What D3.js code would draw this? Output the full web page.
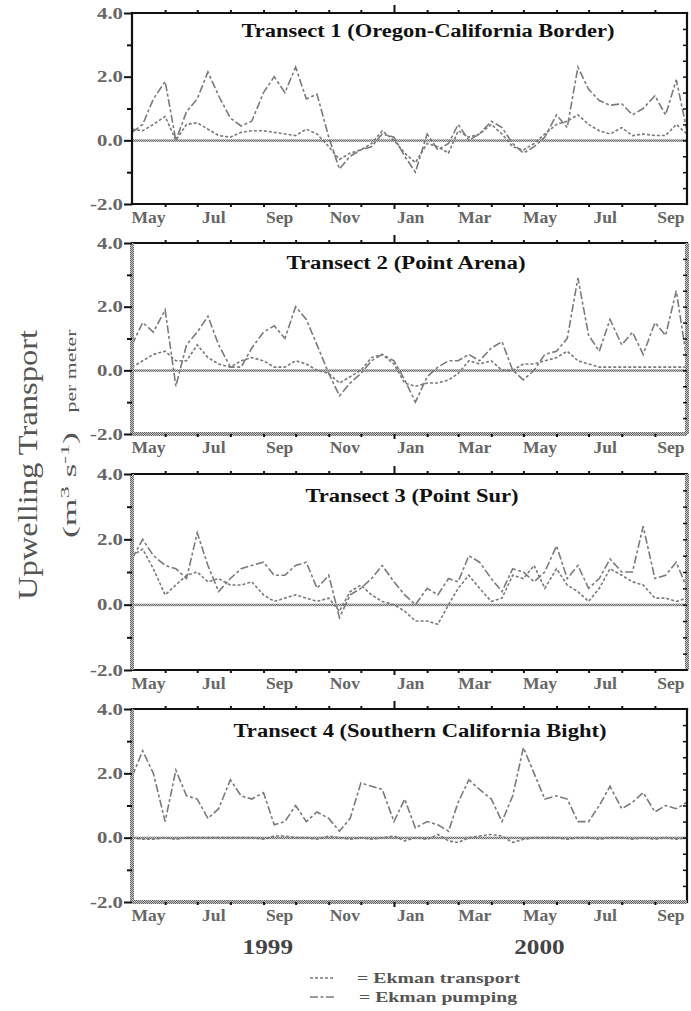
<!DOCTYPE html>
<html><head><meta charset="utf-8">
<script src="https://cdn.jsdelivr.net/npm/d3@7"></script>
<style>body{margin:0;background:#fff}svg{display:block}</style>
</head><body><svg id="c" width="691" height="1011"></svg>
<script>
// ---------- DATA ----------
const dates = [
"1999-05-01","1999-05-11","1999-05-21","1999-06-01","1999-06-11","1999-06-21",
"1999-07-01","1999-07-11","1999-07-21","1999-08-01","1999-08-11","1999-08-21",
"1999-09-01","1999-09-11","1999-09-21","1999-10-01","1999-10-11","1999-10-21",
"1999-11-01","1999-11-11","1999-11-21","1999-12-01","1999-12-11","1999-12-21",
"2000-01-01","2000-01-11","2000-01-21","2000-02-01","2000-02-11","2000-02-21",
"2000-03-01","2000-03-11","2000-03-21","2000-04-01","2000-04-11","2000-04-21",
"2000-05-01","2000-05-11","2000-05-21","2000-06-01","2000-06-11","2000-06-21",
"2000-07-01","2000-07-11","2000-07-21","2000-08-01","2000-08-11","2000-08-21",
"2000-09-01","2000-09-11","2000-09-21","2000-10-01"];

const monthTicks = ["1999-05-01","1999-06-01","1999-07-01","1999-08-01","1999-09-01","1999-10-01",
"1999-11-01","1999-12-01","2000-01-01","2000-02-01","2000-03-01","2000-04-01","2000-05-01",
"2000-06-01","2000-07-01","2000-08-01","2000-09-01","2000-10-01"];
const monthLabels = ["May","Jul","Sep","Nov","Jan","Mar","May","Jul","Sep"];
const monthLabelStarts = ["1999-05-01","1999-07-01","1999-09-01","1999-11-01","2000-01-01",
"2000-03-01","2000-05-01","2000-07-01","2000-09-01"];
const majorTick = "2000-01-01";
const yTickValues = [4, 2, 0, -2];
const yMinorTicks = [3, 1, -1];
const yRightTicks = [3.5,3,2.5,2,1.5,1,0.5,0,-0.5,-1,-1.5];
const titles = ["Transect 1 (Oregon-California Border)","Transect 2 (Point Arena)",
"Transect 3 (Point Sur)","Transect 4 (Southern California Bight)"];
const yearLabels = ["1999","2000"];
const yearDates = ["1999-09-05","2000-05-16"];
const legendLabels = ["= Ekman transport","= Ekman pumping"];

const t1Transport = [0.35,0.3,0.5,0.75,0.0,0.5,0.55,0.35,0.15,0.1,0.25,0.3,0.3,0.25,0.2,0.15,0.35,0.2,-0.2,-0.6,-0.4,-0.3,-0.1,0.3,0.0,-0.4,-0.7,-0.1,-0.2,-0.4,0.3,0.1,0.2,0.5,0.2,-0.2,-0.3,-0.1,0.2,0.5,0.6,0.8,0.5,0.3,0.2,0.4,0.15,0.2,0.15,0.15,0.5,0.2];
const t1Pumping = [0.25,0.5,1.3,1.85,0.0,0.9,1.3,2.15,1.4,0.7,0.45,0.6,1.5,2.0,1.5,2.3,1.3,1.45,0.1,-0.9,-0.5,-0.3,-0.2,0.2,0.1,-0.5,-1.0,0.2,-0.3,-0.1,0.5,0.0,0.2,0.6,0.4,-0.1,-0.4,-0.2,0.1,0.8,0.4,2.3,1.6,1.25,1.1,1.15,0.8,1.0,1.4,0.8,1.9,0.3];
const t2Transport = [0.1,0.3,0.5,0.6,0.3,0.3,0.8,0.4,0.2,0.1,0.3,0.4,0.3,0.1,0.1,0.3,0.2,0.0,-0.1,-0.4,-0.2,0.0,0.4,0.5,0.2,-0.4,-0.5,-0.4,-0.4,-0.3,-0.1,0.3,0.2,0.3,0.0,0.0,0.2,0.2,0.3,0.4,0.6,0.3,0.2,0.1,0.1,0.1,0.1,0.1,0.1,0.1,0.1,0.1];
const t2Pumping = [0.8,1.5,1.2,1.9,-0.5,0.8,1.2,1.7,0.8,0.1,0.1,0.7,1.2,1.4,1.0,2.0,1.6,0.8,-0.1,-0.8,-0.4,-0.1,0.3,0.5,0.3,-0.3,-1.0,-0.2,0.1,0.3,0.3,0.5,0.3,0.7,0.9,0.0,-0.3,0.0,0.5,0.6,1.0,2.9,1.1,0.6,1.6,0.8,1.2,0.5,1.5,1.1,2.5,0.3];
const t3Transport = [1.5,1.7,1.1,0.3,0.6,0.9,1.0,0.7,0.8,0.6,0.6,0.7,0.3,0.1,0.2,0.3,0.2,0.1,0.2,-0.2,0.4,0.6,0.3,0.1,0.0,-0.2,-0.5,-0.5,-0.6,0.0,0.5,0.9,0.5,0.1,0.2,0.9,0.8,1.2,0.5,1.1,0.6,0.4,0.1,0.5,1.1,0.9,0.7,0.6,0.2,0.2,0.1,0.2];
const t3Pumping = [1.4,2.0,1.5,1.2,1.1,0.8,2.2,1.2,0.4,0.8,1.1,1.2,1.3,0.9,0.9,1.2,1.3,0.5,0.9,-0.4,0.3,0.5,0.8,1.2,0.7,0.3,0.0,0.5,0.3,0.8,0.7,1.5,1.3,0.8,0.4,1.1,1.0,0.7,1.0,1.8,0.8,1.2,0.5,0.8,1.4,1.0,1.0,2.4,0.8,0.9,1.3,0.5];
const t4Transport = [0.0,-0.05,-0.05,0.0,-0.05,0.0,0.0,0.0,0.0,0.0,0.0,0.0,-0.05,0.05,0.05,0.0,0.0,-0.05,0.05,0.0,-0.05,0.0,-0.05,0.0,0.05,-0.1,0.0,-0.05,0.1,-0.1,-0.15,0.0,0.05,0.1,0.05,-0.15,-0.05,0.0,0.0,0.0,-0.05,0.0,0.0,-0.05,0.0,0.0,-0.05,0.0,-0.05,0.0,-0.05,0.0];
const t4Pumping = [1.9,2.7,2.0,0.5,2.1,1.3,1.2,0.6,0.9,1.8,1.3,1.2,1.4,0.4,0.5,1.0,0.5,0.8,0.6,0.2,0.6,1.7,1.6,1.5,0.5,1.2,0.3,0.5,0.4,0.2,1.1,1.8,1.5,1.2,0.5,1.3,2.8,2.0,1.2,1.3,1.2,0.5,0.5,1.0,1.6,0.9,1.1,1.4,0.8,1.0,0.9,1.1];

const transportSeries = [t1Transport, t2Transport, t3Transport, t4Transport];
const pumpingSeries = [t1Pumping, t2Pumping, t3Pumping, t4Pumping];

// ---------- LAYOUT ----------
const L = 132, R = 687;
const layout = [
  {top:13,  bottom:204, titleX:428, titleW:373, titleY:37,  frame:"kkkk"},
  {top:243, bottom:434, titleX:406, titleW:239, titleY:269, frame:"ksss"},
  {top:474, bottom:670, titleX:412, titleW:213, titleY:502, frame:"ksks"},
  {top:709, bottom:902, titleX:420, titleW:373, titleY:737, frame:"kkss"}
];
const FONT = "'Liberation Serif','Times New Roman',serif";
const parse = d3.timeParse("%Y-%m-%d");
const x = d3.scaleTime().domain([parse(dates[0]), parse(dates[dates.length-1])]).range([L, R]);

const svg = d3.select("#c");
svg.append("rect").attr("width",691).attr("height",1011).attr("fill","#fff");
const defs = svg.append("defs");
const pat = defs.append("pattern").attr("id","stip").attr("width",2).attr("height",2).attr("patternUnits","userSpaceOnUse");
pat.append("rect").attr("width",2).attr("height",2).attr("fill","#c8c8c8");
pat.append("rect").attr("width",1).attr("height",1).attr("fill","#666");
pat.append("rect").attr("x",1).attr("y",1).attr("width",1).attr("height",1).attr("fill","#666");

function stext(g, px, py, s, o) {
  const t = g.append("text")
    .attr("transform", `translate(${px},${py}) rotate(${o.rotate||0}) scale(${o.sx||1},1)`)
    .attr("text-anchor", o.anchor || "middle")
    .attr("font-family", FONT)
    .attr("font-size", o.size)
    .attr("font-weight", o.weight || "bold")
    .attr("fill", o.fill || "#555")
    .text(s);
  if (o.len) t.attr("textLength", o.len).attr("lengthAdjust", "spacingAndGlyphs");
  return t;
}

layout.forEach((p, i) => {
  const g = svg.append("g");
  const y = d3.scaleLinear().domain([-2, 4]).range([p.bottom, p.top]);

  // zero line
  g.append("rect").attr("x", L).attr("y", y(0) - 1).attr("width", R - L).attr("height", 2.5)
    .attr("fill", "url(#stip)");

  // series
  const line = d3.line().x((d, k) => x(parse(dates[k]))).y(d => y(d));
  g.append("path").datum(transportSeries[i]).attr("d", line)
    .attr("fill", "none").attr("stroke", "#7a7a7a").attr("stroke-width", 1.6)
    .attr("stroke-dasharray", "3,2");
  g.append("path").datum(pumpingSeries[i]).attr("d", line)
    .attr("fill", "none").attr("stroke", "#7a7a7a").attr("stroke-width", 1.6)
    .attr("stroke-dasharray", "8,2.5,3,2.5");

  // frame: t r b l
  const sides = {
    t: {x1:L, y1:p.top, x2:R, y2:p.top},
    r: {x1:R, y1:p.top, x2:R, y2:p.bottom},
    b: {x1:L, y1:p.bottom, x2:R, y2:p.bottom},
    l: {x1:L, y1:p.top, x2:L, y2:p.bottom}
  };
  ["t","r","b","l"].forEach((k, j) => {
    const s = sides[k];
    if (p.frame[j] === "k") {
      g.append("line").attr("x1", s.x1).attr("y1", s.y1).attr("x2", s.x2).attr("y2", s.y2)
        .attr("stroke", "#111").attr("stroke-width", 2.2).attr("stroke-linecap","square");
    } else {
      const vert = s.x1 === s.x2;
      g.append("rect")
        .attr("x", vert ? s.x1 - 2 : s.x1).attr("y", vert ? s.y1 : s.y1 - 2)
        .attr("width", vert ? 4 : s.x2 - s.x1).attr("height", vert ? s.y2 - s.y1 : 4)
        .attr("fill", "url(#stip)");
    }
  });

  // left axis
  const la = g.append("g").attr("transform", `translate(${L},0)`)
    .call(d3.axisLeft(y).tickValues(yTickValues).tickSize(8).tickFormat(d => d.toFixed(1)));
  la.select(".domain").remove();
  la.selectAll("line").attr("stroke", "#111").attr("stroke-width", 2);
  la.selectAll("text").remove();
  yTickValues.forEach(v => stext(g, L - 9, y(v) + 5.5, v.toFixed(1), {size:16, anchor:"end", sx:1.3, fill:"#666"}));
  const lm = g.append("g").attr("transform", `translate(${L},0)`)
    .call(d3.axisLeft(y).tickValues(yMinorTicks).tickSize(5).tickFormat(""));
  lm.select(".domain").remove();
  lm.selectAll("line").attr("stroke", "#111").attr("stroke-width", 2);

  // right ticks inward
  const ra = g.append("g").attr("transform", `translate(${R},0)`)
    .call(d3.axisLeft(y).tickValues(yRightTicks).tickSize(4).tickFormat(""));
  ra.select(".domain").remove();
  ra.selectAll("line").attr("stroke", "#111").attr("stroke-width", 1.5);

  // top & bottom month ticks
  const tickDates = monthTicks.slice(1, -1).map(parse);
  const ta = g.append("g").attr("transform", `translate(0,${p.top})`)
    .call(d3.axisTop(x).tickValues(tickDates).tickSizeInner(3).tickSizeOuter(0).tickFormat(""));
  ta.select(".domain").remove();
  ta.selectAll("line").attr("stroke", "#111").attr("stroke-width", 2)
    .attr("y2", d => +d === +parse(majorTick) ? -8 : -3);
  const ba = g.append("g").attr("transform", `translate(0,${p.bottom})`)
    .call(d3.axisBottom(x).tickValues(tickDates).tickSizeInner(3).tickSizeOuter(0).tickFormat(""));
  ba.select(".domain").remove();
  ba.selectAll("line").attr("stroke", "#111").attr("stroke-width", 2)
    .attr("y2", d => +d === +parse(majorTick) ? 5 : 3);

  // month labels (centered in month)
  monthLabelStarts.forEach((m, k) => {
    const d0 = parse(m), d1 = d3.timeMonth.offset(d0, 1);
    stext(g, (x(d0) + x(d1)) / 2, p.bottom + 19, monthLabels[k], {size:16, sx:1.1, fill:"#666"});
  });

  // title
  stext(g, p.titleX, p.titleY, titles[i], {size:18, fill:"#111", len:p.titleW});
});

// y axis title
stext(svg, 37, 465, "Upwelling Transport", {size:28, weight:"normal", rotate:-90, fill:"#555", len:270});
const sub = svg.append("text")
  .attr("transform", "translate(76,485) rotate(-90)")
  .attr("text-anchor", "middle").attr("font-family", FONT).attr("font-size", 18)
  .attr("fill", "#555").attr("textLength", 106).attr("lengthAdjust", "spacingAndGlyphs");
sub.append("tspan").text("(m");
sub.append("tspan").attr("font-size", 12).attr("dy", -7).text("3");
sub.append("tspan").attr("dy", 7).text(" s");
sub.append("tspan").attr("font-size", 12).attr("dy", -7).text("-1");
sub.append("tspan").attr("dy", 7).text(")");
stext(svg, 76, 371, "per meter", {size:15, weight:"normal", rotate:-90, fill:"#555", len:83});

// year labels
yearLabels.forEach((yl, k) => stext(svg, x(parse(yearDates[k])), 954, yl, {size:21, sx:1.2, fill:"#444"}));

// legend
const lg = svg.append("g");
lg.append("line").attr("x1", 310).attr("x2", 334).attr("y1", 978).attr("y2", 978)
  .attr("stroke", "#7a7a7a").attr("stroke-width", 1.6).attr("stroke-dasharray", "3,2");
lg.append("line").attr("x1", 310).attr("x2", 336).attr("y1", 997).attr("y2", 997)
  .attr("stroke", "#7a7a7a").attr("stroke-width", 1.6).attr("stroke-dasharray", "8,2.5,3,2.5");
stext(lg, 357, 983, legendLabels[0], {size:15, anchor:"start", fill:"#555", len:163});
stext(lg, 359, 1002, legendLabels[1], {size:15, anchor:"start", fill:"#555", len:158});
</script></body></html>
